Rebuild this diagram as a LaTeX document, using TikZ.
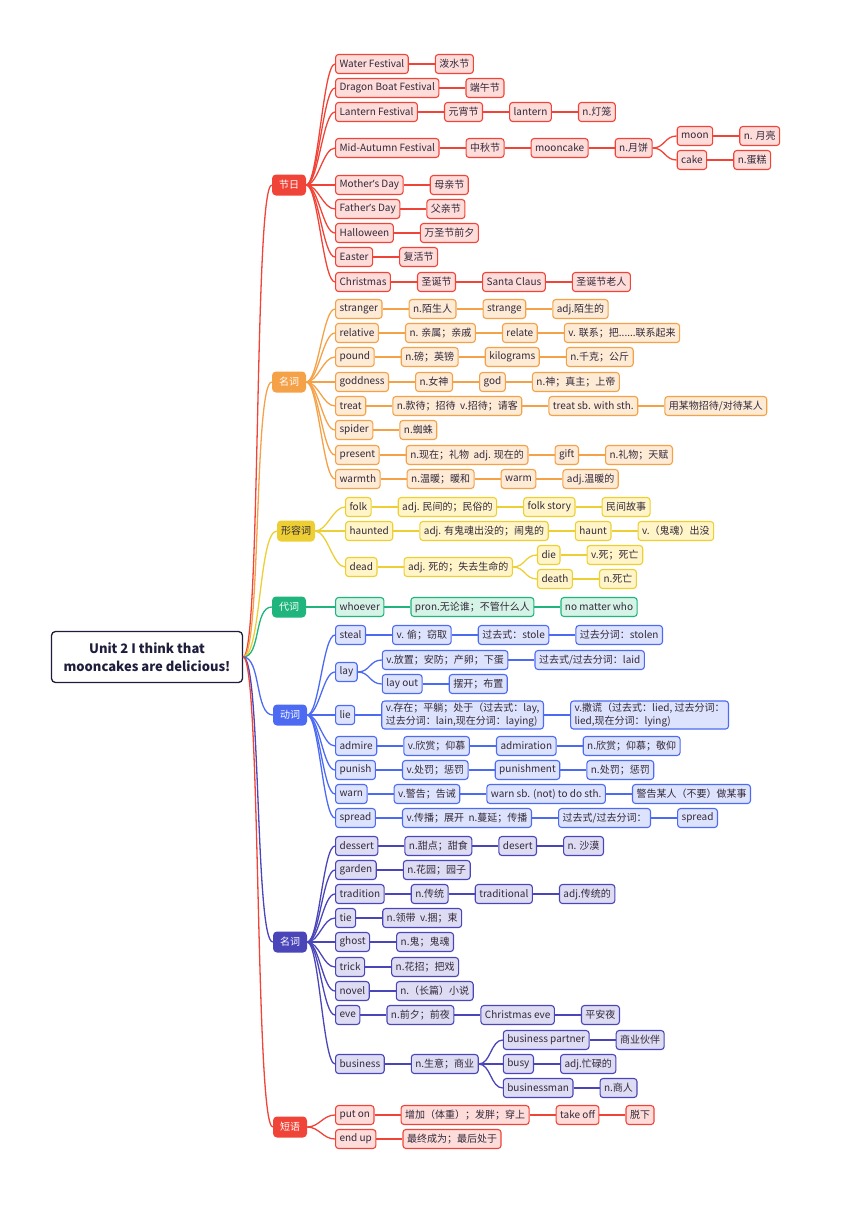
\documentclass[tikz,border=0pt]{standalone}
\usepackage{fontspec}
\setmainfont{Noto Sans CJK SC}
\newfontfamily\enfont{Noto Sans}
\usepackage{xcolor}
\usepackage{tikz}
\usetikzlibrary{positioning}
\definecolor{fred}{HTML}{F04438}
\definecolor{fredl}{HTML}{FDDCDA}
\definecolor{forg}{HTML}{F4A148}
\definecolor{forgl}{HTML}{FDEBD6}
\definecolor{fyel}{HTML}{EDCF33}
\definecolor{fyell}{HTML}{FFF5C8}
\definecolor{fgrn}{HTML}{1FB57C}
\definecolor{fgrnl}{HTML}{D5F3E6}
\definecolor{fblu}{HTML}{4D6BF2}
\definecolor{fblul}{HTML}{DDE3FC}
\definecolor{find}{HTML}{4A45B8}
\definecolor{findl}{HTML}{DDDCF3}
\definecolor{froot}{HTML}{1E1E3C}
\definecolor{ftxt}{HTML}{33293A}

\begin{document}
\begin{tikzpicture}[x=1pt, y=-1pt,
				node distance=26pt,
				every node/.style={font=\fontsize{10}{13}\selectfont, text=ftxt},
				item/.style={draw, rounded corners=3pt, line width=1.1pt, minimum height=19pt, inner xsep=4pt, inner ysep=2pt},
				hub/.style={rounded corners=4pt, minimum height=21pt, minimum width=34pt, inner xsep=4pt, text=white},
				rd/.style={item, draw=fred, fill=fredl},
				og/.style={item, draw=forg, fill=forgl},
				yl/.style={item, draw=fyel, fill=fyell},
				gn/.style={item, draw=fgrn, fill=fgrnl},
				bl/.style={item, draw=fblu, fill=fblul},
				ig/.style={item, draw=find, fill=findl},
				link/.style={line width=1.3pt},
				curvy/.style={out=0, in=180, distance=12pt}]

				\useasboundingbox (0,0) rectangle (860,1216);

				\node[draw=froot, line width=1.3pt, fill=white, rounded corners=4pt, align=center, minimum width=191pt, minimum height=51pt, text=froot, font=\fontsize{13}{18}\selectfont\bfseries] (root) at (147,657) {Unit 2 I think that\\mooncakes are delicious!};

				\node[hub, fill=fred] (fest) at (289,185) {节日};
				\node[hub, fill=forg] (noun) at (289,382) {名词};
				\node[hub, fill=fyel, text=ftxt] (adj) at (296,531) {形容词};
				\node[hub, fill=fgrn] (pron) at (289,607) {代词};
				\node[hub, fill=fblu] (verb) at (290,715) {动词};
				\node[hub, fill=find] (nountwo) at (290,942) {名词};
				\node[hub, fill=fred] (phr) at (290,1127) {短语};

				\draw[link, fred] (root.east) to[curvy, distance=18pt] (fest.west);
				\draw[link, forg] (root.east) to[curvy, distance=18pt] (noun.west);
				\draw[link, fyel] (root.east) to[curvy, distance=18pt] (adj.west);
				\draw[link, fgrn] (root.east) to[curvy, distance=18pt] (pron.west);
				\draw[link, fblu] (root.east) to[curvy, distance=18pt] (verb.west);
				\draw[link, find] (root.east) to[curvy, distance=18pt] (nountwo.west);
				\draw[link, fred] (root.east) to[curvy, distance=18pt] (phr.west);

				\node[rd, anchor=west] (f1) at (335,64) {Water Festival};
				\node[rd, right=of f1] (f1a) {泼水节};
				\node[rd, anchor=west] (f2) at (335,88) {Dragon Boat Festival};
				\node[rd, right=of f2] (f2a) {端午节};
				\node[rd, anchor=west] (f3) at (335,112) {Lantern Festival};
				\node[rd, right=of f3] (f3a) {元宵节};
				\node[rd, right=of f3a] (f3b) {lantern};
				\node[rd, right=of f3b] (f3c) {n.灯笼};
				\node[rd, anchor=west] (f4) at (335,148) {Mid-Autumn Festival};
				\node[rd, right=of f4] (f4a) {中秋节};
				\node[rd, right=of f4a] (f4b) {mooncake};
				\node[rd, right=of f4b] (f4c) {n.月饼};
				\node[rd, right=24pt of f4c, yshift=12pt] (f4d) {moon};
				\node[rd, right=of f4d] (f4e) {n. 月亮};
				\node[rd, right=24pt of f4c, yshift=-12pt] (f4f) {cake};
				\node[rd, right=of f4f] (f4g) {n.蛋糕};
				\node[rd, anchor=west] (f5) at (335,185) {Mother{\enfont’}s Day};
				\node[rd, right=of f5] (f5a) {母亲节};
				\node[rd, anchor=west] (f6) at (335,209) {Father{\enfont’}s Day};
				\node[rd, right=of f6] (f6a) {父亲节};
				\node[rd, anchor=west] (f7) at (335,233) {Halloween};
				\node[rd, right=of f7] (f7a) {万圣节前夕};
				\node[rd, anchor=west] (f8) at (335,257) {Easter};
				\node[rd, right=of f8] (f8a) {复活节};
				\node[rd, anchor=west] (f9) at (335,282) {Christmas};
				\node[rd, right=of f9] (f9a) {圣诞节};
				\node[rd, right=of f9a] (f9b) {Santa Claus};
				\node[rd, right=of f9b] (f9c) {圣诞节老人};

				\draw[link, fred] (fest.east) to[curvy] (f1.west);
				\draw[link, fred] (fest.east) to[curvy] (f2.west);
				\draw[link, fred] (fest.east) to[curvy] (f3.west);
				\draw[link, fred] (fest.east) to[curvy] (f4.west);
				\draw[link, fred] (fest.east) to[curvy] (f5.west);
				\draw[link, fred] (fest.east) to[curvy] (f6.west);
				\draw[link, fred] (fest.east) to[curvy] (f7.west);
				\draw[link, fred] (fest.east) to[curvy] (f8.west);
				\draw[link, fred] (fest.east) to[curvy] (f9.west);
				\draw[link, fred] (f1) -- (f1a);
				\draw[link, fred] (f2) -- (f2a);
				\draw[link, fred] (f3) -- (f3a);
				\draw[link, fred] (f3a) -- (f3b);
				\draw[link, fred] (f3b) -- (f3c);
				\draw[link, fred] (f4) -- (f4a);
				\draw[link, fred] (f4a) -- (f4b);
				\draw[link, fred] (f4b) -- (f4c);
				\draw[link, fred] (f4c.east) to[curvy] (f4d.west);
				\draw[link, fred] (f4c.east) to[curvy] (f4f.west);
				\draw[link, fred] (f4d) -- (f4e);
				\draw[link, fred] (f4f) -- (f4g);
				\draw[link, fred] (f5) -- (f5a);
				\draw[link, fred] (f6) -- (f6a);
				\draw[link, fred] (f7) -- (f7a);
				\draw[link, fred] (f8) -- (f8a);
				\draw[link, fred] (f9) -- (f9a);
				\draw[link, fred] (f9a) -- (f9b);
				\draw[link, fred] (f9b) -- (f9c);

				\node[og, anchor=west] (n1) at (335,309) {stranger};
				\node[og, right=of n1] (n1a) {n.陌生人};
				\node[og, right=of n1a] (n1b) {strange};
				\node[og, right=of n1b] (n1c) {adj.陌生的};
				\node[og, anchor=west] (n2) at (335,333) {relative};
				\node[og, right=of n2] (n2a) {n. 亲属；亲戚};
				\node[og, right=of n2a] (n2b) {relate};
				\node[og, right=of n2b] (n2c) {v. 联系；把......联系起来};
				\node[og, anchor=west] (n3) at (335,357) {pound};
				\node[og, right=of n3] (n3a) {n.磅；英镑};
				\node[og, right=of n3a] (n3b) {kilograms};
				\node[og, right=of n3b] (n3c) {n.千克；公斤};
				\node[og, anchor=west] (n4) at (335,382) {goddness};
				\node[og, right=of n4] (n4a) {n.女神};
				\node[og, right=of n4a] (n4b) {god};
				\node[og, right=of n4b] (n4c) {n.神；真主；上帝};
				\node[og, anchor=west] (n5) at (335,406) {treat};
				\node[og, right=of n5] (n5a) {n.款待；招待\ \ v.招待；请客};
				\node[og, right=of n5a] (n5b) {treat sb. with sth.};
				\node[og, right=of n5b] (n5c) {用某物招待/对待某人};
				\node[og, anchor=west] (n6) at (335,430) {spider};
				\node[og, right=of n6] (n6a) {n.蜘蛛};
				\node[og, anchor=west] (n7) at (335,455) {present};
				\node[og, right=of n7] (n7a) {n.现在；礼物\ \ adj. 现在的};
				\node[og, right=of n7a] (n7b) {gift};
				\node[og, right=of n7b] (n7c) {n.礼物；天赋};
				\node[og, anchor=west] (n8) at (335,479) {warmth};
				\node[og, right=of n8] (n8a) {n.温暖；暖和};
				\node[og, right=of n8a] (n8b) {warm};
				\node[og, right=of n8b] (n8c) {adj.温暖的};

				\draw[link, forg] (noun.east) to[curvy] (n1.west);
				\draw[link, forg] (noun.east) to[curvy] (n2.west);
				\draw[link, forg] (noun.east) to[curvy] (n3.west);
				\draw[link, forg] (noun.east) to[curvy] (n4.west);
				\draw[link, forg] (noun.east) to[curvy] (n5.west);
				\draw[link, forg] (noun.east) to[curvy] (n6.west);
				\draw[link, forg] (noun.east) to[curvy] (n7.west);
				\draw[link, forg] (noun.east) to[curvy] (n8.west);
				\draw[link, forg] (n1) -- (n1a);
				\draw[link, forg] (n1a) -- (n1b);
				\draw[link, forg] (n1b) -- (n1c);
				\draw[link, forg] (n2) -- (n2a);
				\draw[link, forg] (n2a) -- (n2b);
				\draw[link, forg] (n2b) -- (n2c);
				\draw[link, forg] (n3) -- (n3a);
				\draw[link, forg] (n3a) -- (n3b);
				\draw[link, forg] (n3b) -- (n3c);
				\draw[link, forg] (n4) -- (n4a);
				\draw[link, forg] (n4a) -- (n4b);
				\draw[link, forg] (n4b) -- (n4c);
				\draw[link, forg] (n5) -- (n5a);
				\draw[link, forg] (n5a) -- (n5b);
				\draw[link, forg] (n5b) -- (n5c);
				\draw[link, forg] (n6) -- (n6a);
				\draw[link, forg] (n7) -- (n7a);
				\draw[link, forg] (n7a) -- (n7b);
				\draw[link, forg] (n7b) -- (n7c);
				\draw[link, forg] (n8) -- (n8a);
				\draw[link, forg] (n8a) -- (n8b);
				\draw[link, forg] (n8b) -- (n8c);

				\node[yl, anchor=west] (a1) at (345,507) {folk};
				\node[yl, right=of a1] (a1a) {adj. 民间的；民俗的};
				\node[yl, right=of a1a] (a1b) {folk story};
				\node[yl, right=of a1b] (a1c) {民间故事};
				\node[yl, anchor=west] (a2) at (345,531) {haunted};
				\node[yl, right=of a2] (a2a) {adj. 有鬼魂出没的；闹鬼的};
				\node[yl, right=of a2a] (a2b) {haunt};
				\node[yl, right=of a2b] (a2c) {v.（鬼魂）出没};
				\node[yl, anchor=west] (a3) at (345,567) {dead};
				\node[yl, right=of a3] (a3a) {adj. 死的；失去生命的};
				\node[yl, right=24pt of a3a, yshift=12pt] (a3b) {die};
				\node[yl, right=of a3b] (a3c) {v.死；死亡};
				\node[yl, right=24pt of a3a, yshift=-12pt] (a3d) {death};
				\node[yl, right=of a3d] (a3e) {n.死亡};

				\draw[link, fyel] (adj.east) to[curvy] (a1.west);
				\draw[link, fyel] (adj.east) to[curvy] (a2.west);
				\draw[link, fyel] (adj.east) to[curvy] (a3.west);
				\draw[link, fyel] (a1) -- (a1a);
				\draw[link, fyel] (a1a) -- (a1b);
				\draw[link, fyel] (a1b) -- (a1c);
				\draw[link, fyel] (a2) -- (a2a);
				\draw[link, fyel] (a2a) -- (a2b);
				\draw[link, fyel] (a2b) -- (a2c);
				\draw[link, fyel] (a3) -- (a3a);
				\draw[link, fyel] (a3a.east) to[curvy] (a3b.west);
				\draw[link, fyel] (a3a.east) to[curvy] (a3d.west);
				\draw[link, fyel] (a3b) -- (a3c);
				\draw[link, fyel] (a3d) -- (a3e);

				\node[gn, anchor=west] (p1) at (335,607) {whoever};
				\node[gn, right=of p1] (p1a) {pron.无论谁；不管什么人};
				\node[gn, right=of p1a] (p1b) {no matter who};

				\draw[link, fgrn] (pron) -- (p1);
				\draw[link, fgrn] (p1) -- (p1a);
				\draw[link, fgrn] (p1a) -- (p1b);

				\node[bl, anchor=west] (v1) at (335,635) {steal};
				\node[bl, right=of v1] (v1a) {v. 偷；窃取};
				\node[bl, right=of v1a] (v1b) {过去式：stole};
				\node[bl, right=of v1b] (v1c) {过去分词：stolen};
				\node[bl, anchor=west] (v2) at (335,672) {lay};
				\node[bl, right=24pt of v2, yshift=12pt] (v2a) {v.放置；安防；产卵；下蛋};
				\node[bl, right=of v2a] (v2b) {过去式/过去分词：laid};
				\node[bl, right=24pt of v2, yshift=-12pt] (v2c) {lay out};
				\node[bl, right=of v2c] (v2d) {摆开；布置};
				\node[bl, anchor=west] (v3) at (335,715) {lie};
				\node[bl, right=of v3, align=left] (v3a) {v.存在；平躺；处于（过去式：lay,\\过去分词：lain,现在分词：laying)};
				\node[bl, right=of v3a, align=left] (v3b) {v.撒谎（过去式：lied, 过去分词：\\lied,现在分词：lying)};
				\node[bl, anchor=west] (v4) at (335,746) {admire};
				\node[bl, right=of v4] (v4a) {v.欣赏；仰慕};
				\node[bl, right=of v4a] (v4b) {admiration};
				\node[bl, right=of v4b] (v4c) {n.欣赏；仰慕；敬仰};
				\node[bl, anchor=west] (v5) at (335,770) {punish};
				\node[bl, right=of v5] (v5a) {v.处罚；惩罚};
				\node[bl, right=of v5a] (v5b) {punishment};
				\node[bl, right=of v5b] (v5c) {n.处罚；惩罚};
				\node[bl, anchor=west] (v6) at (335,794) {warn};
				\node[bl, right=of v6] (v6a) {v.警告；告诫};
				\node[bl, right=of v6a] (v6b) {warn sb. (not) to do sth.};
				\node[bl, right=of v6b] (v6c) {警告某人（不要）做某事};
				\node[bl, anchor=west] (v7) at (335,818) {spread};
				\node[bl, right=of v7] (v7a) {v.传播；展开\ \ n.蔓延；传播};
				\node[bl, right=of v7a] (v7b) {过去式/过去分词：};
				\node[bl, right=of v7b] (v7c) {spread};

				\draw[link, fblu] (verb.east) to[curvy] (v1.west);
				\draw[link, fblu] (verb.east) to[curvy] (v2.west);
				\draw[link, fblu] (verb.east) to[curvy] (v3.west);
				\draw[link, fblu] (verb.east) to[curvy] (v4.west);
				\draw[link, fblu] (verb.east) to[curvy] (v5.west);
				\draw[link, fblu] (verb.east) to[curvy] (v6.west);
				\draw[link, fblu] (verb.east) to[curvy] (v7.west);
				\draw[link, fblu] (v1) -- (v1a);
				\draw[link, fblu] (v1a) -- (v1b);
				\draw[link, fblu] (v1b) -- (v1c);
				\draw[link, fblu] (v2.east) to[curvy] (v2a.west);
				\draw[link, fblu] (v2.east) to[curvy] (v2c.west);
				\draw[link, fblu] (v2a) -- (v2b);
				\draw[link, fblu] (v2c) -- (v2d);
				\draw[link, fblu] (v3) -- (v3a);
				\draw[link, fblu] (v3a) -- (v3b);
				\draw[link, fblu] (v4) -- (v4a);
				\draw[link, fblu] (v4a) -- (v4b);
				\draw[link, fblu] (v4b) -- (v4c);
				\draw[link, fblu] (v5) -- (v5a);
				\draw[link, fblu] (v5a) -- (v5b);
				\draw[link, fblu] (v5b) -- (v5c);
				\draw[link, fblu] (v6) -- (v6a);
				\draw[link, fblu] (v6a) -- (v6b);
				\draw[link, fblu] (v6b) -- (v6c);
				\draw[link, fblu] (v7) -- (v7a);
				\draw[link, fblu] (v7a) -- (v7b);
				\draw[link, fblu] (v7b) -- (v7c);

				\node[ig, anchor=west] (m1) at (335,846) {dessert};
				\node[ig, right=of m1] (m1a) {n.甜点；甜食};
				\node[ig, right=of m1a] (m1b) {desert};
				\node[ig, right=of m1b] (m1c) {n. 沙漠};
				\node[ig, anchor=west] (m2) at (335,870) {garden};
				\node[ig, right=of m2] (m2a) {n.花园；园子};
				\node[ig, anchor=west] (m3) at (335,894) {tradition};
				\node[ig, right=of m3] (m3a) {n.传统};
				\node[ig, right=of m3a] (m3b) {traditional};
				\node[ig, right=of m3b] (m3c) {adj.传统的};
				\node[ig, anchor=west] (m4) at (335,918) {tie};
				\node[ig, right=of m4] (m4a) {n.领带\ \ v.捆；束};
				\node[ig, anchor=west] (m5) at (335,942) {ghost};
				\node[ig, right=of m5] (m5a) {n.鬼；鬼魂};
				\node[ig, anchor=west] (m6) at (335,967) {trick};
				\node[ig, right=of m6] (m6a) {n.花招；把戏};
				\node[ig, anchor=west] (m7) at (335,991) {novel};
				\node[ig, right=of m7] (m7a) {n.（长篇）小说};
				\node[ig, anchor=west] (m8) at (335,1015) {eve};
				\node[ig, right=of m8] (m8a) {n.前夕；前夜};
				\node[ig, right=of m8a] (m8b) {Christmas eve};
				\node[ig, right=of m8b] (m8c) {平安夜};
				\node[ig, anchor=west] (m9) at (335,1064) {business};
				\node[ig, right=of m9] (m9a) {n.生意；商业};
				\node[ig, right=24pt of m9a, yshift=24pt] (m9b) {business partner};
				\node[ig, right=of m9b] (m9c) {商业伙伴};
				\node[ig, right=24pt of m9a] (m9d) {busy};
				\node[ig, right=of m9d] (m9e) {adj.忙碌的};
				\node[ig, right=24pt of m9a, yshift=-24pt] (m9f) {businessman};
				\node[ig, right=of m9f] (m9g) {n.商人};

				\draw[link, find] (nountwo.east) to[curvy] (m1.west);
				\draw[link, find] (nountwo.east) to[curvy] (m2.west);
				\draw[link, find] (nountwo.east) to[curvy] (m3.west);
				\draw[link, find] (nountwo.east) to[curvy] (m4.west);
				\draw[link, find] (nountwo.east) to[curvy] (m5.west);
				\draw[link, find] (nountwo.east) to[curvy] (m6.west);
				\draw[link, find] (nountwo.east) to[curvy] (m7.west);
				\draw[link, find] (nountwo.east) to[curvy] (m8.west);
				\draw[link, find] (nountwo.east) to[curvy] (m9.west);
				\draw[link, find] (m1) -- (m1a);
				\draw[link, find] (m1a) -- (m1b);
				\draw[link, find] (m1b) -- (m1c);
				\draw[link, find] (m2) -- (m2a);
				\draw[link, find] (m3) -- (m3a);
				\draw[link, find] (m3a) -- (m3b);
				\draw[link, find] (m3b) -- (m3c);
				\draw[link, find] (m4) -- (m4a);
				\draw[link, find] (m5) -- (m5a);
				\draw[link, find] (m6) -- (m6a);
				\draw[link, find] (m7) -- (m7a);
				\draw[link, find] (m8) -- (m8a);
				\draw[link, find] (m8a) -- (m8b);
				\draw[link, find] (m8b) -- (m8c);
				\draw[link, find] (m9) -- (m9a);
				\draw[link, find] (m9a.east) to[curvy] (m9b.west);
				\draw[link, find] (m9a) -- (m9d);
				\draw[link, find] (m9a.east) to[curvy] (m9f.west);
				\draw[link, find] (m9b) -- (m9c);
				\draw[link, find] (m9d) -- (m9e);
				\draw[link, find] (m9f) -- (m9g);

				\node[rd, anchor=west] (r1) at (335,1115) {put on};
				\node[rd, right=of r1] (r1a) {增加（体重）；发胖；穿上};
				\node[rd, right=of r1a] (r1b) {take off};
				\node[rd, right=of r1b] (r1c) {脱下};
				\node[rd, anchor=west] (r2) at (335,1139) {end up};
				\node[rd, right=of r2] (r2a) {最终成为；最后处于};

				\draw[link, fred] (phr.east) to[curvy] (r1.west);
				\draw[link, fred] (phr.east) to[curvy] (r2.west);
				\draw[link, fred] (r1) -- (r1a);
				\draw[link, fred] (r1a) -- (r1b);
				\draw[link, fred] (r1b) -- (r1c);
				\draw[link, fred] (r2) -- (r2a);
			\end{tikzpicture}
\end{document}
